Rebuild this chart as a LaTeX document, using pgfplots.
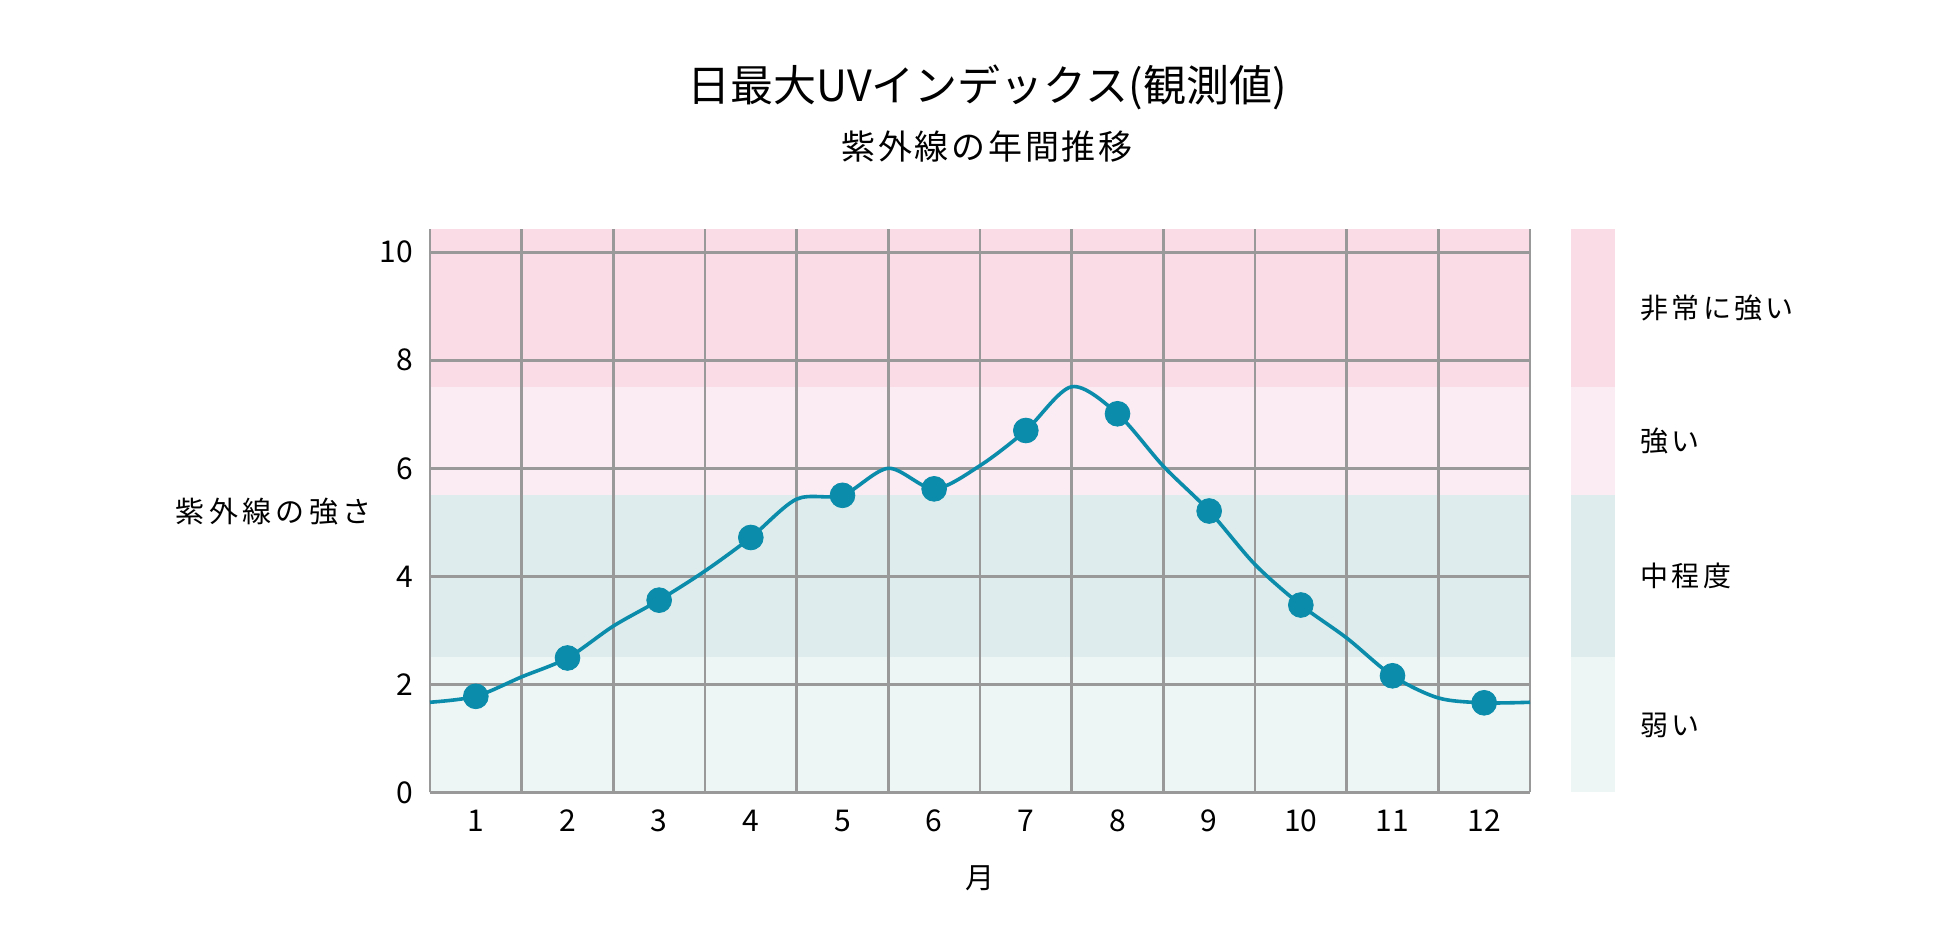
\documentclass[border=0pt]{standalone}
\usepackage{pgfplots}
\pgfplotsset{compat=1.18}
\usepackage{fontspec}
\setmainfont{Noto Sans CJK JP}
\newfontfamily\subfont[LetterSpace=8]{Noto Sans CJK JP}
\newfontfamily\ylabfont[LetterSpace=15]{Noto Sans CJK JP}
\newfontfamily\bandfont[LetterSpace=12]{Noto Sans CJK JP}

\definecolor{vhigh}{HTML}{F9DCE6}
\definecolor{high}{HTML}{FBEBF2}
\definecolor{moder}{HTML}{DEECED}
\definecolor{low}{HTML}{EDF5F5}
\definecolor{uvline}{HTML}{0A8CAA}
\definecolor{gridgray}{HTML}{999999}

\begin{document}
\begin{tikzpicture}
  \begin{axis}[
      at={(0,0)}, anchor=south west,
      scale only axis, width=550pt, height=281.75pt,
      set layers, clip=false,
      xmin=0.5, xmax=12.5, ymin=0, ymax=10.43,
      axis lines=left,
      axis line style={-, draw=gridgray, line width=1.3pt},
      xtick={1,...,12},
      minor xtick={0.5,1.5,...,12.5},
      ytick={0,2,...,10},
      major tick length=0pt, minor tick length=0pt,
      xminorgrids=true, ymajorgrids=true,
      grid style={draw=gridgray, line width=1.3pt},
      minor grid style={draw=gridgray, line width=1.3pt},
      tick label style={font=\fontsize{15}{17}\selectfont, text=black},
      /pgf/number format/assume math mode=true,
      yticklabel style={anchor=east, xshift=-5pt},
      xticklabel style={anchor=center, yshift=-14.25pt},
    ]
    % UV bands
    \addplot[draw=none, fill=low, on layer=axis background]
      coordinates {(0.5,0) (12.5,0) (12.5,2.5) (0.5,2.5)} -- cycle;
    \addplot[draw=none, fill=moder, on layer=axis background]
      coordinates {(0.5,2.5) (12.5,2.5) (12.5,5.5) (0.5,5.5)} -- cycle;
    \addplot[draw=none, fill=high, on layer=axis background]
      coordinates {(0.5,5.5) (12.5,5.5) (12.5,7.5) (0.5,7.5)} -- cycle;
    \addplot[draw=none, fill=vhigh, on layer=axis background]
      coordinates {(0.5,7.5) (12.5,7.5) (12.5,10.43) (0.5,10.43)} -- cycle;

    % side bar
    \addplot[draw=none, fill=low, on layer=axis background]
      coordinates {(12.947,0) (13.427,0) (13.427,2.5) (12.947,2.5)} -- cycle;
    \addplot[draw=none, fill=moder, on layer=axis background]
      coordinates {(12.947,2.5) (13.427,2.5) (13.427,5.5) (12.947,5.5)} -- cycle;
    \addplot[draw=none, fill=high, on layer=axis background]
      coordinates {(12.947,5.5) (13.427,5.5) (13.427,7.5) (12.947,7.5)} -- cycle;
    \addplot[draw=none, fill=vhigh, on layer=axis background]
      coordinates {(12.947,7.5) (13.427,7.5) (13.427,10.43) (12.947,10.43)} -- cycle;

    % curve
    \addplot[uvline, line width=1.8pt, smooth] coordinates {
      (0.5,1.67) (1,1.78) (1.5,2.14) (2,2.49) (2.5,3.08) (3,3.56)
      (3.5,4.10) (4,4.72) (4.5,5.43) (5,5.50) (5.5,6.00) (6,5.62)
      (6.5,6.05) (7,6.70) (7.5,7.51) (8,7.01) (8.5,6.04) (9,5.21)
      (9.5,4.22) (10,3.47) (10.5,2.86) (11,2.16) (11.5,1.75) (12,1.66)
      (12.5,1.67)
    };
    % monthly values
    \addplot[only marks, mark=*, mark size=6.2pt, color=uvline] coordinates {
      (1,1.78) (2,2.49) (3,3.56) (4,4.72) (5,5.50) (6,5.62)
      (7,6.70) (8,7.01) (9,5.21) (10,3.47) (11,2.16) (12,1.66)
    };

    % band labels
    \begin{scope}[every node/.style={anchor=west, inner sep=0pt, font=\bandfont\fontsize{14}{16}\selectfont}]
      \node at (axis cs:12.5,8.965) [xshift=55pt] {非常に強い};
      \node at (axis cs:12.5,6.5) [xshift=55pt] {強い};
      \node at (axis cs:12.5,4) [xshift=55pt] {中程度};
      \node at (axis cs:12.5,1.25) [xshift=55pt] {弱い};
    \end{scope}

    \node[font=\fontsize{14.5}{16}\selectfont] at (axis cs:6.5,0) [yshift=-43pt] {月};
  \end{axis}

  \node[anchor=east, inner sep=0pt, font=\ylabfont\fontsize{14.5}{16}\selectfont]
    at (-29pt,140.25pt) {紫外線の強さ};
  \node[font=\fontsize{21.5}{24}\selectfont] at (278.5pt,352.75pt) {日最大UVインデックス(観測値)};
  \node[font=\subfont\fontsize{17}{20}\selectfont] at (278.5pt,322.75pt) {紫外線の年間推移};

  \pgfresetboundingbox
  \useasboundingbox (-215pt,-73.75pt) rectangle (765pt,396.25pt);
\end{tikzpicture}
\end{document}
